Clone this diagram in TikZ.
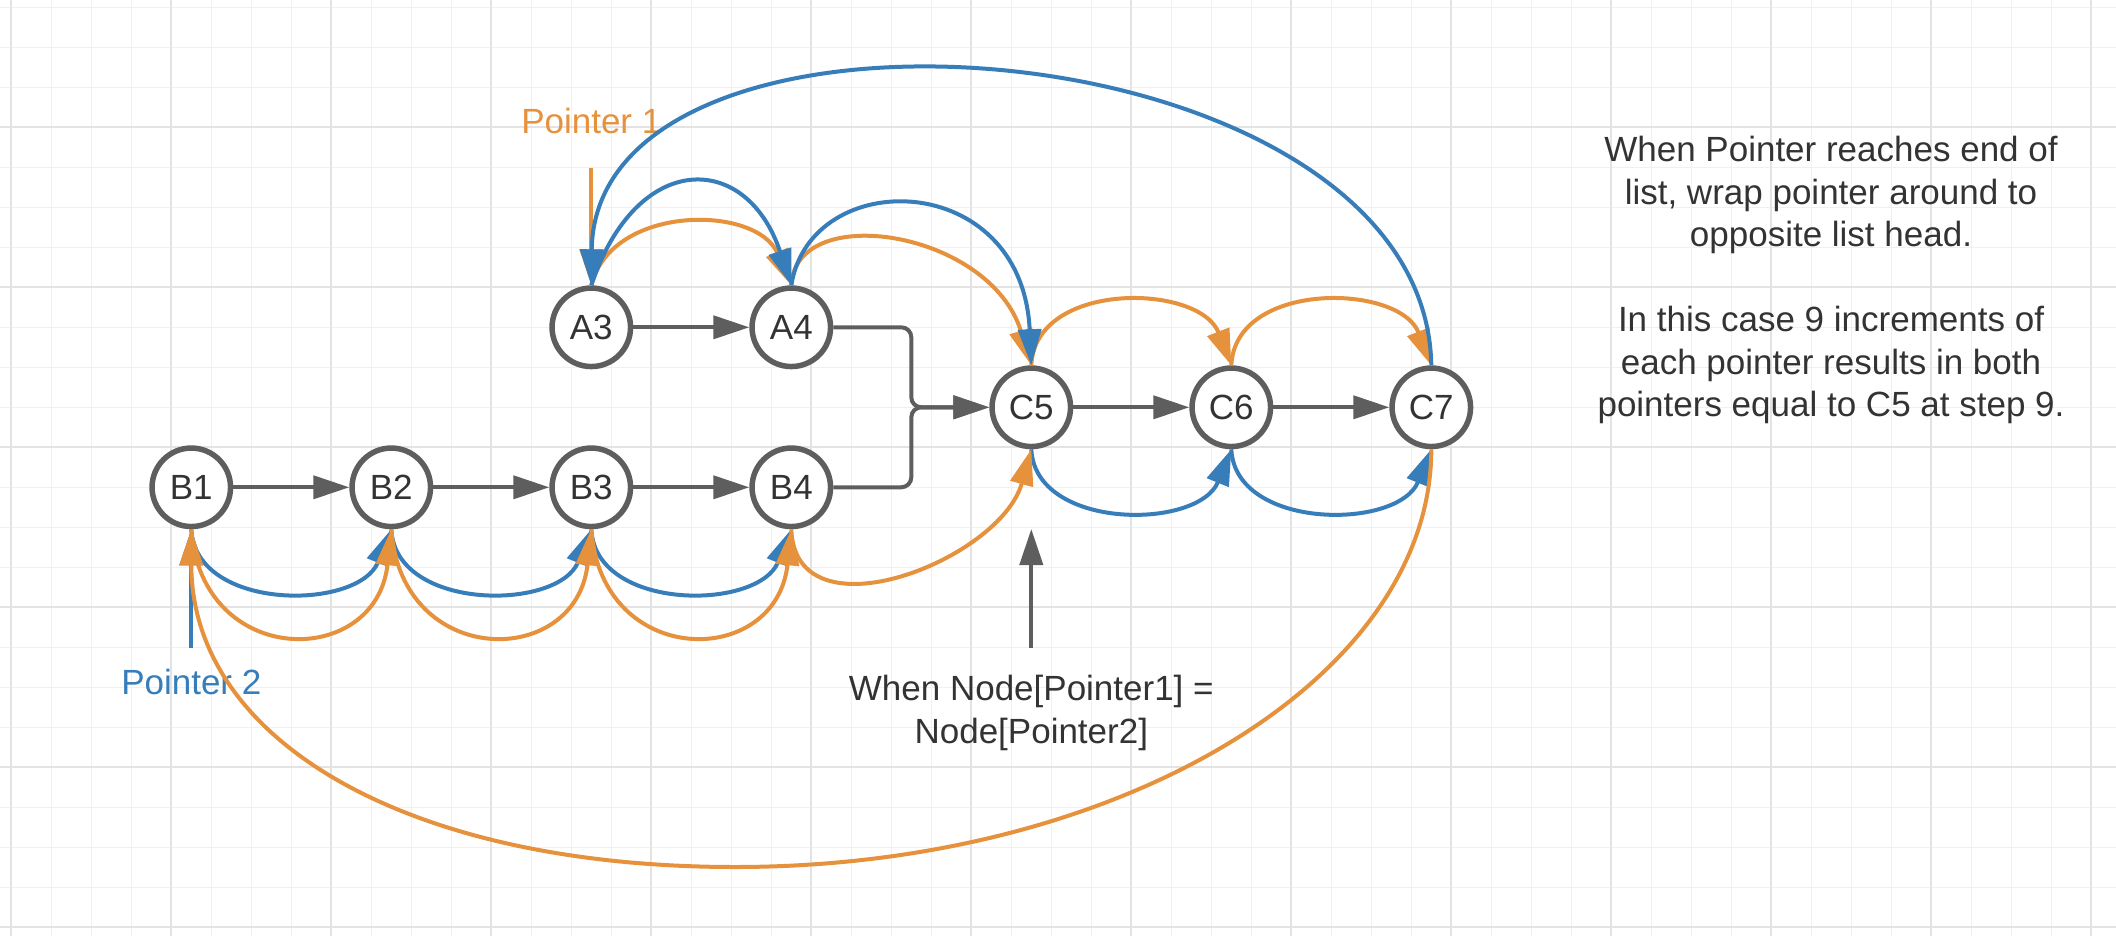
\documentclass[tikz,border=0pt]{standalone}
\usepackage{fontspec}
\setmainfont{Liberation Sans}
\usetikzlibrary{arrows.meta,calc}
\definecolor{porange}{HTML}{E6913C}
\definecolor{pblue}{HTML}{377DB9}
\definecolor{cgray}{HTML}{5E5E5E}
\definecolor{ctext}{HTML}{333333}
\definecolor{gridlt}{HTML}{F0F0F0}
\definecolor{griddk}{HTML}{E3E3E3}
\begin{document}
\begin{tikzpicture}[x=1pt,y=-1pt,
  every node/.style={font=\fontsize{35}{42.5}\selectfont, text=ctext},
  listnode/.style={circle, draw=cgray, line width=5.5pt, fill=white, minimum size=78.5pt, inner sep=0pt},
  arrowhd/.style={-{Triangle[length=36pt,width=23pt]}},
  linkarrow/.style={draw=cgray, line width=4pt, arrowhd, rounded corners=10pt},
  ptrA/.style={draw=porange, line width=4pt, arrowhd},
  ptrB/.style={draw=pblue, line width=4pt, arrowhd},
  gridthin/.style={draw=gridlt, line width=1.5pt},
  gridthick/.style={draw=griddk, line width=2pt}
]
\useasboundingbox[fill=white] (0,0) rectangle (2116,936);
% grid
\foreach \i in {0,...,52} \draw[gridthin] ({11.3+40*\i},0) -- ({11.3+40*\i},936);
\foreach \j in {0,...,23} \draw[gridthin] (0,{7.3+40*\j}) -- (2116,{7.3+40*\j});
\foreach \i in {0,...,13} \draw[gridthick] ({11.3+160*\i},0) -- ({11.3+160*\i},936);
\foreach \j in {0,...,5} \draw[gridthick] (0,{127.3+160*\j}) -- (2116,{127.3+160*\j});

% list nodes
\node[listnode] (A3) at (591.3,327.3) {A3};
\node[listnode] (A4) at (791.3,327.3) {A4};
\node[listnode] (B1) at (191.3,487.3) {B1};
\node[listnode] (B2) at (391.3,487.3) {B2};
\node[listnode] (B3) at (591.3,487.3) {B3};
\node[listnode] (B4) at (791.3,487.3) {B4};
\node[listnode] (C5) at (1031.3,407.3) {C5};
\node[listnode] (C6) at (1231.3,407.3) {C6};
\node[listnode] (C7) at (1431.3,407.3) {C7};

% labels (base anchor = baseline of the last line)
\node[text=porange, anchor=base] (p1label) at (591.3,134) {Pointer 1};
\node[text=pblue, anchor=base] (p2label) at (191.3,694) {Pointer 2};
\node[align=center, anchor=base] (note) at (1031.3,743) {When Node[Pointer1] =\\Node[Pointer2]};
\node[align=center, anchor=base] (explain) at (1831,416.7) {When Pointer reaches end of\\list, wrap pointer around to\\opposite list head.\\[42.5pt]In this case 9 increments of\\each pointer results in both\\pointers equal to C5 at step 9.};

\coordinate (p1foot) at (591.3,168);
\coordinate (p2foot) at (191.3,648);
\coordinate (noteFoot) at (1031.3,648);
\coordinate (noteTip) at (1031.3,529);
\coordinate (wrapLow) at (735,867);

% gray list links
\draw[linkarrow] (A3) -- (A4);
\draw[linkarrow] (B1) -- (B2);
\draw[linkarrow] (B2) -- (B3);
\draw[linkarrow] (B3) -- (B4);
\draw[linkarrow] (C5) -- (C6);
\draw[linkarrow] (C6) -- (C7);
\draw[linkarrow] (A4.east) -- ++(78,0) |- (C5.west);
\draw[linkarrow] (B4.east) -- ++(78,0) |- (C5.west);
\draw[linkarrow] (noteFoot) -- (noteTip);

% pointer 1 (orange), upper part
\draw[ptrA] (p1foot) -- (A3.north);
\draw[ptrA] (A3.north) .. controls ($(A3.north)+(20,-81)$) and ($(A4.north)+(-35,-81)$) .. (A4.north);
\draw[ptrA] (A4.north) .. controls ($(A4.north)+(4,-85)$) and ($(C5.north)+(-41,-135)$) .. (C5.north);
\draw[ptrA] (C5.north) .. controls ($(C5.north)+(4,-85)$) and ($(C6.north)+(-32,-82)$) .. (C6.north);
\draw[ptrA] (C6.north) .. controls ($(C6.north)+(4,-85)$) and ($(C7.north)+(-32,-82)$) .. (C7.north);

% pointer 2 (blue)
\draw[ptrB] (C7.north) .. controls (1425,22) and (595,-38) .. (A3.north);
\draw[ptrB] (A3.north) .. controls ($(A3.north)+(45,-135)$) and ($(A4.north)+(-45,-135)$) .. (A4.north);
\draw[ptrB] (A4.north) .. controls ($(A4.north)+(19,-120)$) and ($(C5.north)+(-9,-197)$) .. (C5.north);
\draw[ptrB] (C5.south) .. controls ($(C5.south)+(4,81)$) and ($(C6.south)+(-33,81)$) .. (C6.south);
\draw[ptrB] (C6.south) .. controls ($(C6.south)+(4,81)$) and ($(C7.south)+(-33,81)$) .. (C7.south);
\draw[ptrB] (p2foot) -- (B1.south);
\draw[ptrB] (B1.south) .. controls ($(B1.south)+(4,82)$) and ($(B2.south)+(-33,82)$) .. (B2.south);
\draw[ptrB] (B2.south) .. controls ($(B2.south)+(4,82)$) and ($(B3.south)+(-33,82)$) .. (B3.south);
\draw[ptrB] (B3.south) .. controls ($(B3.south)+(4,82)$) and ($(B4.south)+(-33,82)$) .. (B4.south);

% pointer 1 (orange), lower part
\draw[ptrA] (C7.south) .. controls ($(C7.south)+(0,230)$) and (1118,867) .. (wrapLow) .. controls (405,867) and ($(B1.south)+(0,210)$) .. (B1.south);
\draw[ptrA] (B1.south) .. controls ($(B1.south)+(10,140)$) and ($(B2.south)+(-15,140)$) .. (B2.south);
\draw[ptrA] (B2.south) .. controls ($(B2.south)+(10,140)$) and ($(B3.south)+(-15,140)$) .. (B3.south);
\draw[ptrA] (B3.south) .. controls ($(B3.south)+(10,140)$) and ($(B4.south)+(-15,140)$) .. (B4.south);
\draw[ptrA] (B4.south) .. controls ($(B4.south)+(4,111)$) and ($(C5.south)+(-31,111)$) .. (C5.south);
\end{tikzpicture}
\end{document}
